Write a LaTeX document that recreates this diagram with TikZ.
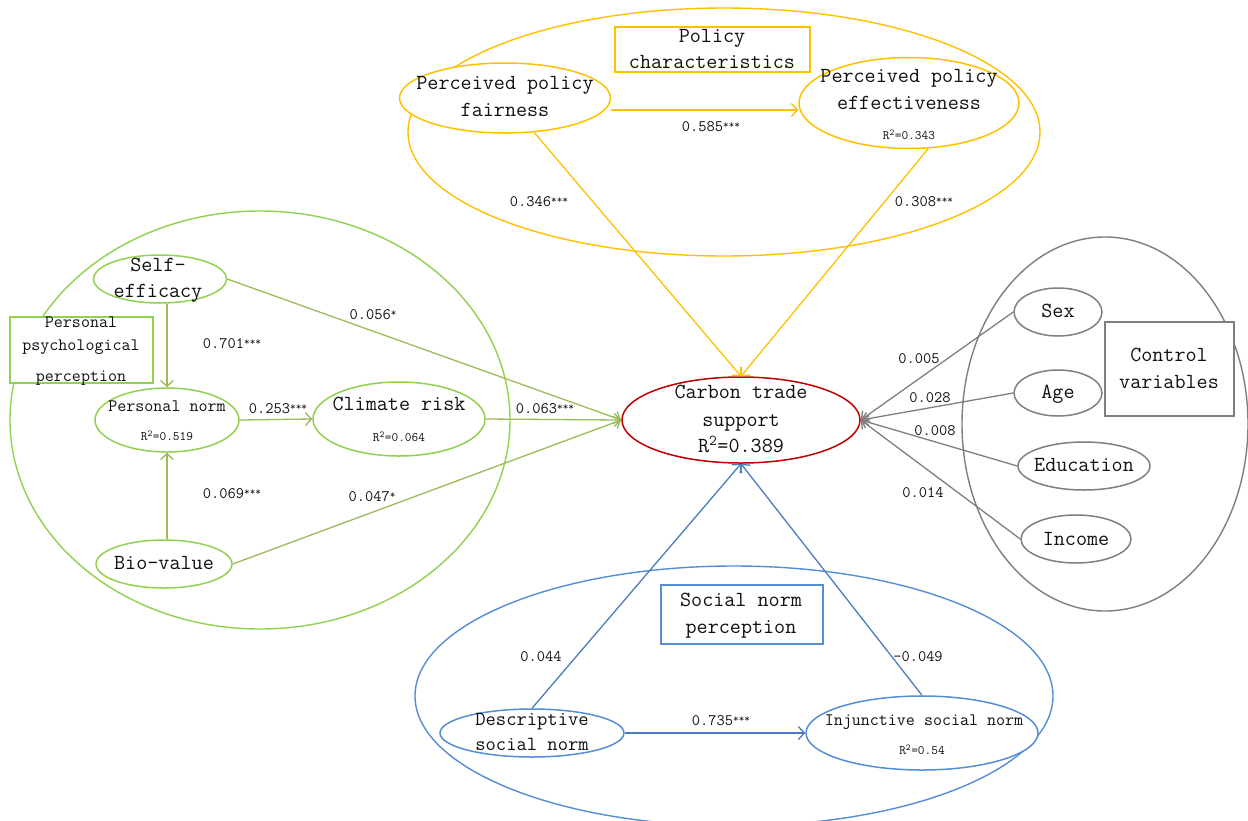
\documentclass[tikz,border=0pt]{standalone}
\usetikzlibrary{shapes.geometric,arrows.meta}
\definecolor{yel}{HTML}{FFC000}
\definecolor{grn}{HTML}{92D050}
\definecolor{grnl}{HTML}{9BBB59}
\definecolor{gry}{HTML}{7F7F7F}
\definecolor{redc}{HTML}{C00000}
\definecolor{blu}{HTML}{558ED5}
\definecolor{blul}{HTML}{4A7EBB}
\definecolor{txt}{HTML}{111111}
\newcommand\mystars[1]{\raisebox{3pt}{\fontsize{11}{11}\selectfont #1}}
\newcommand\rsq{R\textsuperscript{2}}
\begin{document}
\begin{tikzpicture}[x=1pt,y=-1pt,
  every node/.style={text=txt},
  grp/.style={ellipse, draw, line width=1.4pt, inner sep=0pt},
  ell/.style={ellipse, draw, fill=white, line width=1.5pt, inner sep=0pt},
  bx/.style={rectangle, draw, fill=white, line width=1.4pt, inner sep=0pt},
  conn/.style={line width=1.3pt, -{Straight Barb[length=6pt,width=13pt]}},
  txtb/.style={anchor=mid, inner sep=0pt, yshift=-3.5pt},
  tbig/.style={txtb, font=\ttfamily\fontsize{21.5}{26}\selectfont},
  tdes/.style={txtb, font=\ttfamily\fontsize{20}{24}\selectfont},
  tmed/.style={txtb, font=\ttfamily\fontsize{17.5}{21}\selectfont},
  tnum/.style={txtb, font=\ttfamily\fontsize{16}{18}\selectfont},
  tsml/.style={txtb, font=\ttfamily\fontsize{13}{15}\selectfont}
]
\useasboundingbox[fill=white] (0,0) rectangle (1248,820);

% group ellipses
\node[grp, draw=yel, minimum width=632pt, minimum height=248pt] (gpol) at (724,132) {};
\node[grp, draw=grn, minimum width=500pt, minimum height=418pt] (gpsy) at (260,420) {};
\node[grp, draw=gry, minimum width=286pt, minimum height=374pt] (gctl) at (1105,424) {};
\node[grp, draw=blu, minimum width=638pt, minimum height=260pt] (gsoc) at (734,696) {};

% boxes
\node[bx, draw=yel, minimum width=195pt, minimum height=45pt] (bpol) at (712.5,49.5) {};
\node[bx, draw=grn, minimum width=143pt, minimum height=66pt] (bpsy) at (81.5,350) {};
\node[bx, draw=gry, minimum width=129pt, minimum height=94pt] (bctl) at (1169.5,369) {};
\node[bx, draw=blu, minimum width=162pt, minimum height=59pt] (bsoc) at (742,614.5) {};

% variable ellipses
\node[ell, draw=yel, minimum width=211pt, minimum height=70pt] (pf) at (505,98) {};
\node[ell, draw=yel, minimum width=220pt, minimum height=91pt] (pe) at (909,103) {};
\node[ell, draw=redc, minimum width=238pt, minimum height=86pt] (ct) at (741,420) {};
\node[ell, draw=grn, minimum width=133pt, minimum height=48pt] (se) at (160,279) {};
\node[ell, draw=grn, minimum width=144pt, minimum height=64pt] (pn) at (167,420) {};
\node[ell, draw=grn, minimum width=172pt, minimum height=74pt] (cr) at (399,419) {};
\node[ell, draw=grn, minimum width=136pt, minimum height=48pt] (bv) at (164,564) {};
\node[ell, draw=gry, minimum width=88pt, minimum height=48pt] (sx) at (1058,312) {};
\node[ell, draw=gry, minimum width=88pt, minimum height=46pt] (ag) at (1058,393) {};
\node[ell, draw=gry, minimum width=132pt, minimum height=48pt] (ed) at (1084,466) {};
\node[ell, draw=gry, minimum width=110pt, minimum height=48pt] (inc) at (1076,539) {};
\node[ell, draw=blu, minimum width=184pt, minimum height=48pt] (de) at (532,733) {};
\node[ell, draw=blu, minimum width=232pt, minimum height=74pt] (ij) at (922,733) {};

% connectors
\draw[conn, yel] ([yshift=-7pt]pe.west -| pf.east) -- ([yshift=-7pt]pe.west);
\draw[conn, yel] (pf) -- (ct.north);
\draw[conn, yel] (pe.-67) -- (ct.north);
\draw[conn, grnl] (se.south -| pn.north) -- (pn.north);
\draw[conn, grnl] (bv.north -| pn.south) -- (pn.south);
\draw[conn, grnl] (pn.east) -- (cr.west);
\draw[conn, grnl] (cr.east) -- (ct.west);
\draw[conn, grnl] (se.east) -- (ct.west);
\draw[conn, grnl] (bv.east) -- (ct.west);
\draw[conn, gry] (sx.west) -- (ct.east);
\draw[conn, gry] (ag.west) -- (ct.east);
\draw[conn, gry] (ed.west) -- (ct.east);
\draw[conn, gry] (inc.west) -- (ct.east);
\draw[conn, blul] (de.north) -- (ct.south);
\draw[conn, blul] (ij.north) -- (ct.south);
\draw[conn, blul] (de.east) -- (de.east -| ij.west);

% texts: policy
\node[tbig] (t1) at (712,37) {Policy};
\node[tbig] (t2) at (712,63) {characteristics};
\node[tbig] (t3) at (505,84) {Perceived policy};
\node[tbig] (t4) at (505,111) {fairness};
\node[tbig] (t5) at (909,77) {Perceived policy};
\node[tbig] (t6) at (909,104) {effectiveness};
\node[tsml] (t7) at (909,134) {\rsq=0.343};
\node[tnum] (l1) at (711,126) {0.585\mystars{***}};
\node[tnum] (l2) at (539,201) {0.346\mystars{***}};
\node[tnum] (l3) at (924,201) {0.308\mystars{***}};
% carbon
\node[tbig] (c1) at (741,393) {Carbon trade};
\node[tbig] (c2) at (741,421) {support};
\node[tbig] (c3) at (741,447) {\rsq=0.389};
% psychological
\node[tmed] (p1) at (81,322) {Personal};
\node[tmed] (p2) at (81,345) {psychological};
\node[tmed] (p3) at (81,376) {perception};
\node[tbig] (p4) at (158,266) {Self-};
\node[tbig] (p5) at (158,292) {efficacy};
\node[tmed] (p6) at (167,406) {Personal norm};
\node[tsml] (p7) at (167,435) {\rsq=0.519};
\node[tbig] (p8) at (399,405) {Climate risk};
\node[tsml] (p9) at (399,436) {\rsq=0.064};
\node[tbig] (p10) at (164,564) {Bio-value};
\node[tnum] (l4) at (232,343) {0.701\mystars{***}};
\node[tnum] (l5) at (232,493) {0.069\mystars{***}};
\node[tnum] (l6) at (278,408) {0.253\mystars{***}};
\node[tnum] (l7) at (545,408) {0.063\mystars{***}};
\node[tnum] (l8) at (373,314) {0.056\mystars{*}};
\node[tnum] (l9) at (372,496) {0.047\mystars{*}};
% control
\node[tbig] (k1) at (1058,312) {Sex};
\node[tbig] (k2) at (1058,393) {Age};
\node[tbig] (k3) at (1084,466) {Education};
\node[tbig] (k4) at (1076,540) {Income};
\node[tbig] (k5) at (1169,356) {Control};
\node[tbig] (k6) at (1169,383) {variables};
\node[tnum] (l10) at (919,358) {0.005};
\node[tnum] (l11) at (930,397) {0.028};
\node[tnum] (l12) at (935,430) {0.008};
\node[tnum] (l13) at (923,492) {0.014};
% social
\node[tbig] (s1) at (741,601) {Social norm};
\node[tbig] (s2) at (741,628) {perception};
\node[tdes] (s3) at (532,720) {Descriptive};
\node[tdes] (s4) at (532,745) {social norm};
\node[tmed] (s5) at (924,720) {Injunctive social norm};
\node[tsml] (s6) at (922,749) {\rsq=0.54};
\node[tnum] (l14) at (541,656) {0.044};
\node[tnum] (l15) at (918,656) {-0.049};
\node[tnum] (l16) at (721,720) {0.735\mystars{***}};
\end{tikzpicture}
\end{document}
